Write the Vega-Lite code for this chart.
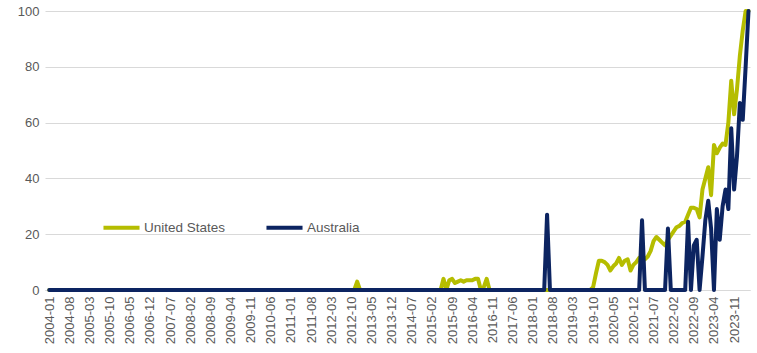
{
  "$schema": "https://vega.github.io/schema/vega-lite/v6.json",
  "width": 705,
  "height": 279,
  "autosize": {"type": "none"},
  "padding": {"left": 45, "top": 11, "right": 7, "bottom": 63},
  "background": "white",
  "config": {
    "view": {"stroke": null},
    "font": "Liberation Sans"
  },
  "data": {
    "values": [
      {"m":"2004-01","United States":0,"Australia":0},{"m":"2004-02","United States":0,"Australia":0},{"m":"2004-03","United States":0,"Australia":0},{"m":"2004-04","United States":0,"Australia":0},{"m":"2004-05","United States":0,"Australia":0},{"m":"2004-06","United States":0,"Australia":0},{"m":"2004-07","United States":0,"Australia":0},{"m":"2004-08","United States":0,"Australia":0},{"m":"2004-09","United States":0,"Australia":0},{"m":"2004-10","United States":0,"Australia":0},{"m":"2004-11","United States":0,"Australia":0},{"m":"2004-12","United States":0,"Australia":0},
      {"m":"2005-01","United States":0,"Australia":0},{"m":"2005-02","United States":0,"Australia":0},{"m":"2005-03","United States":0,"Australia":0},{"m":"2005-04","United States":0,"Australia":0},{"m":"2005-05","United States":0,"Australia":0},{"m":"2005-06","United States":0,"Australia":0},{"m":"2005-07","United States":0,"Australia":0},{"m":"2005-08","United States":0,"Australia":0},{"m":"2005-09","United States":0,"Australia":0},{"m":"2005-10","United States":0,"Australia":0},{"m":"2005-11","United States":0,"Australia":0},{"m":"2005-12","United States":0,"Australia":0},
      {"m":"2006-01","United States":0,"Australia":0},{"m":"2006-02","United States":0,"Australia":0},{"m":"2006-03","United States":0,"Australia":0},{"m":"2006-04","United States":0,"Australia":0},{"m":"2006-05","United States":0,"Australia":0},{"m":"2006-06","United States":0,"Australia":0},{"m":"2006-07","United States":0,"Australia":0},{"m":"2006-08","United States":0,"Australia":0},{"m":"2006-09","United States":0,"Australia":0},{"m":"2006-10","United States":0,"Australia":0},{"m":"2006-11","United States":0,"Australia":0},{"m":"2006-12","United States":0,"Australia":0},
      {"m":"2007-01","United States":0,"Australia":0},{"m":"2007-02","United States":0,"Australia":0},{"m":"2007-03","United States":0,"Australia":0},{"m":"2007-04","United States":0,"Australia":0},{"m":"2007-05","United States":0,"Australia":0},{"m":"2007-06","United States":0,"Australia":0},{"m":"2007-07","United States":0,"Australia":0},{"m":"2007-08","United States":0,"Australia":0},{"m":"2007-09","United States":0,"Australia":0},{"m":"2007-10","United States":0,"Australia":0},{"m":"2007-11","United States":0,"Australia":0},{"m":"2007-12","United States":0,"Australia":0},
      {"m":"2008-01","United States":0,"Australia":0},{"m":"2008-02","United States":0,"Australia":0},{"m":"2008-03","United States":0,"Australia":0},{"m":"2008-04","United States":0,"Australia":0},{"m":"2008-05","United States":0,"Australia":0},{"m":"2008-06","United States":0,"Australia":0},{"m":"2008-07","United States":0,"Australia":0},{"m":"2008-08","United States":0,"Australia":0},{"m":"2008-09","United States":0,"Australia":0},{"m":"2008-10","United States":0,"Australia":0},{"m":"2008-11","United States":0,"Australia":0},{"m":"2008-12","United States":0,"Australia":0},
      {"m":"2009-01","United States":0,"Australia":0},{"m":"2009-02","United States":0,"Australia":0},{"m":"2009-03","United States":0,"Australia":0},{"m":"2009-04","United States":0,"Australia":0},{"m":"2009-05","United States":0,"Australia":0},{"m":"2009-06","United States":0,"Australia":0},{"m":"2009-07","United States":0,"Australia":0},{"m":"2009-08","United States":0,"Australia":0},{"m":"2009-09","United States":0,"Australia":0},{"m":"2009-10","United States":0,"Australia":0},{"m":"2009-11","United States":0,"Australia":0},{"m":"2009-12","United States":0,"Australia":0},
      {"m":"2010-01","United States":0,"Australia":0},{"m":"2010-02","United States":0,"Australia":0},{"m":"2010-03","United States":0,"Australia":0},{"m":"2010-04","United States":0,"Australia":0},{"m":"2010-05","United States":0,"Australia":0},{"m":"2010-06","United States":0,"Australia":0},{"m":"2010-07","United States":0,"Australia":0},{"m":"2010-08","United States":0,"Australia":0},{"m":"2010-09","United States":0,"Australia":0},{"m":"2010-10","United States":0,"Australia":0},{"m":"2010-11","United States":0,"Australia":0},{"m":"2010-12","United States":0,"Australia":0},
      {"m":"2011-01","United States":0,"Australia":0},{"m":"2011-02","United States":0,"Australia":0},{"m":"2011-03","United States":0,"Australia":0},{"m":"2011-04","United States":0,"Australia":0},{"m":"2011-05","United States":0,"Australia":0},{"m":"2011-06","United States":0,"Australia":0},{"m":"2011-07","United States":0,"Australia":0},{"m":"2011-08","United States":0,"Australia":0},{"m":"2011-09","United States":0,"Australia":0},{"m":"2011-10","United States":0,"Australia":0},{"m":"2011-11","United States":0,"Australia":0},{"m":"2011-12","United States":0,"Australia":0},
      {"m":"2012-01","United States":0,"Australia":0},{"m":"2012-02","United States":0,"Australia":0},{"m":"2012-03","United States":0,"Australia":0},{"m":"2012-04","United States":0,"Australia":0},{"m":"2012-05","United States":0,"Australia":0},{"m":"2012-06","United States":0,"Australia":0},{"m":"2012-07","United States":0,"Australia":0},{"m":"2012-08","United States":0,"Australia":0},{"m":"2012-09","United States":0,"Australia":0},{"m":"2012-10","United States":0,"Australia":0},{"m":"2012-11","United States":0,"Australia":0},{"m":"2012-12","United States":3,"Australia":0},
      {"m":"2013-01","United States":0,"Australia":0},{"m":"2013-02","United States":0,"Australia":0},{"m":"2013-03","United States":0,"Australia":0},{"m":"2013-04","United States":0,"Australia":0},{"m":"2013-05","United States":0,"Australia":0},{"m":"2013-06","United States":0,"Australia":0},{"m":"2013-07","United States":0,"Australia":0},{"m":"2013-08","United States":0,"Australia":0},{"m":"2013-09","United States":0,"Australia":0},{"m":"2013-10","United States":0,"Australia":0},{"m":"2013-11","United States":0,"Australia":0},{"m":"2013-12","United States":0,"Australia":0},
      {"m":"2014-01","United States":0,"Australia":0},{"m":"2014-02","United States":0,"Australia":0},{"m":"2014-03","United States":0,"Australia":0},{"m":"2014-04","United States":0,"Australia":0},{"m":"2014-05","United States":0,"Australia":0},{"m":"2014-06","United States":0,"Australia":0},{"m":"2014-07","United States":0,"Australia":0},{"m":"2014-08","United States":0,"Australia":0},{"m":"2014-09","United States":0,"Australia":0},{"m":"2014-10","United States":0,"Australia":0},{"m":"2014-11","United States":0,"Australia":0},{"m":"2014-12","United States":0,"Australia":0},
      {"m":"2015-01","United States":0,"Australia":0},{"m":"2015-02","United States":0,"Australia":0},{"m":"2015-03","United States":0,"Australia":0},{"m":"2015-04","United States":0,"Australia":0},{"m":"2015-05","United States":0,"Australia":0},{"m":"2015-06","United States":4,"Australia":0},{"m":"2015-07","United States":0,"Australia":0},{"m":"2015-08","United States":3.5,"Australia":0},{"m":"2015-09","United States":4,"Australia":0},{"m":"2015-10","United States":2.5,"Australia":0},{"m":"2015-11","United States":3,"Australia":0},{"m":"2015-12","United States":3.5,"Australia":0},
      {"m":"2016-01","United States":3,"Australia":0},{"m":"2016-02","United States":3.5,"Australia":0},{"m":"2016-03","United States":3.5,"Australia":0},{"m":"2016-04","United States":3.5,"Australia":0},{"m":"2016-05","United States":4,"Australia":0},{"m":"2016-06","United States":4,"Australia":0},{"m":"2016-07","United States":0,"Australia":0},{"m":"2016-08","United States":1,"Australia":0},{"m":"2016-09","United States":4,"Australia":0},{"m":"2016-10","United States":0,"Australia":0},{"m":"2016-11","United States":0,"Australia":0},{"m":"2016-12","United States":0,"Australia":0},
      {"m":"2017-01","United States":0,"Australia":0},{"m":"2017-02","United States":0,"Australia":0},{"m":"2017-03","United States":0,"Australia":0},{"m":"2017-04","United States":0,"Australia":0},{"m":"2017-05","United States":0,"Australia":0},{"m":"2017-06","United States":0,"Australia":0},{"m":"2017-07","United States":0,"Australia":0},{"m":"2017-08","United States":0,"Australia":0},{"m":"2017-09","United States":0,"Australia":0},{"m":"2017-10","United States":0,"Australia":0},{"m":"2017-11","United States":0,"Australia":0},{"m":"2017-12","United States":0,"Australia":0},
      {"m":"2018-01","United States":0,"Australia":0},{"m":"2018-02","United States":0,"Australia":0},{"m":"2018-03","United States":0,"Australia":0},{"m":"2018-04","United States":0,"Australia":0},{"m":"2018-05","United States":0,"Australia":0},{"m":"2018-06","United States":0,"Australia":27},{"m":"2018-07","United States":0,"Australia":0},{"m":"2018-08","United States":0,"Australia":0},{"m":"2018-09","United States":0,"Australia":0},{"m":"2018-10","United States":0,"Australia":0},{"m":"2018-11","United States":0,"Australia":0},{"m":"2018-12","United States":0,"Australia":0},
      {"m":"2019-01","United States":0,"Australia":0},{"m":"2019-02","United States":0,"Australia":0},{"m":"2019-03","United States":0,"Australia":0},{"m":"2019-04","United States":0,"Australia":0},{"m":"2019-05","United States":0,"Australia":0},{"m":"2019-06","United States":0,"Australia":0},{"m":"2019-07","United States":0,"Australia":0},{"m":"2019-08","United States":0,"Australia":0},{"m":"2019-09","United States":0,"Australia":0},{"m":"2019-10","United States":1,"Australia":0},{"m":"2019-11","United States":6,"Australia":0},{"m":"2019-12","United States":10.5,"Australia":0},
      {"m":"2020-01","United States":10.5,"Australia":0},{"m":"2020-02","United States":10,"Australia":0},{"m":"2020-03","United States":9,"Australia":0},{"m":"2020-04","United States":7,"Australia":0},{"m":"2020-05","United States":8.5,"Australia":0},{"m":"2020-06","United States":9.5,"Australia":0},{"m":"2020-07","United States":11.5,"Australia":0},{"m":"2020-08","United States":9,"Australia":0},{"m":"2020-09","United States":10.5,"Australia":0},{"m":"2020-10","United States":11,"Australia":0},{"m":"2020-11","United States":7,"Australia":0},{"m":"2020-12","United States":9,"Australia":0},
      {"m":"2021-01","United States":10,"Australia":0},{"m":"2021-02","United States":11.5,"Australia":0},{"m":"2021-03","United States":11,"Australia":25},{"m":"2021-04","United States":11,"Australia":0},{"m":"2021-05","United States":12,"Australia":0},{"m":"2021-06","United States":14,"Australia":0},{"m":"2021-07","United States":17.5,"Australia":0},{"m":"2021-08","United States":19,"Australia":0},{"m":"2021-09","United States":18,"Australia":0},{"m":"2021-10","United States":17,"Australia":0},{"m":"2021-11","United States":16,"Australia":0},{"m":"2021-12","United States":18,"Australia":22},
      {"m":"2022-01","United States":19.5,"Australia":0},{"m":"2022-02","United States":21,"Australia":0},{"m":"2022-03","United States":22.5,"Australia":0},{"m":"2022-04","United States":23,"Australia":0},{"m":"2022-05","United States":24,"Australia":0},{"m":"2022-06","United States":24.5,"Australia":0},{"m":"2022-07","United States":27,"Australia":24.5},{"m":"2022-08","United States":29.5,"Australia":0},{"m":"2022-09","United States":29.5,"Australia":16},{"m":"2022-10","United States":29,"Australia":18},{"m":"2022-11","United States":26,"Australia":0},{"m":"2022-12","United States":36,"Australia":12},
      {"m":"2023-01","United States":40,"Australia":25},{"m":"2023-02","United States":44,"Australia":32},{"m":"2023-03","United States":34,"Australia":22},{"m":"2023-04","United States":52,"Australia":0},{"m":"2023-05","United States":49,"Australia":29},{"m":"2023-06","United States":51,"Australia":18},{"m":"2023-07","United States":52.5,"Australia":30},{"m":"2023-08","United States":52,"Australia":36},{"m":"2023-09","United States":60,"Australia":29},{"m":"2023-10","United States":75,"Australia":58},{"m":"2023-11","United States":63,"Australia":36},{"m":"2023-12","United States":72,"Australia":48},
      {"m":"2024-01","United States":84,"Australia":67},{"m":"2024-02","United States":93,"Australia":61},{"m":"2024-03","United States":100,"Australia":80},{"m":"2024-04","United States":100,"Australia":100}
    ]
  },
  "transform": [
    {"fold": ["United States", "Australia"], "as": ["country", "value"]}
  ],
  "mark": {"type": "line", "strokeWidth": 4, "strokeJoin": "round", "strokeCap": "round"},
  "encoding": {
    "x": {
      "field": "m",
      "type": "ordinal",
      "sort": null,
      "scale": {"type": "point", "padding": 1.57, "align": 0.74},
      "axis": {
        "title": null,
        "values": ["2004-01","2004-08","2005-03","2005-10","2006-05","2006-12","2007-07","2008-02","2008-09","2009-04","2009-11","2010-06","2011-01","2011-08","2012-03","2012-10","2013-05","2013-12","2014-07","2015-02","2015-09","2016-04","2016-11","2017-06","2018-01","2018-08","2019-03","2019-10","2020-05","2020-12","2021-07","2022-02","2022-09","2023-04","2023-11"],
        "labelAngle": -90,
        "labelAlign": "right",
        "labelBaseline": "middle",
        "labelFontSize": 13,
        "labelColor": "#595959",
        "labelPadding": 6,
        "labelOverlap": false,
        "ticks": false,
        "domainColor": "#D9D9D9",
        "grid": false
      }
    },
    "y": {
      "field": "value",
      "type": "quantitative",
      "scale": {"domain": [0, 100], "nice": false},
      "axis": {
        "title": null,
        "values": [0, 20, 40, 60, 80, 100],
        "domain": false,
        "ticks": false,
        "labelFontSize": 13,
        "labelColor": "#595959",
        "labelPadding": 6,
        "gridColor": "#D9D9D9",
        "gridWidth": 1
      }
    },
    "color": {
      "field": "country",
      "type": "nominal",
      "scale": {"domain": ["United States", "Australia"], "range": ["#B5BD00", "#0C2461"]},
      "legend": {
        "title": null,
        "orient": "none",
        "legendX": 56,
        "legendY": 196,
        "direction": "horizontal",
        "symbolType": "stroke",
        "symbolSize": 1300,
        "symbolStrokeWidth": 4,
        "labelFontSize": 13.5,
        "labelColor": "#595959",
        "labelOffset": 2,
        "columnPadding": 32
      }
    }
  }
}
